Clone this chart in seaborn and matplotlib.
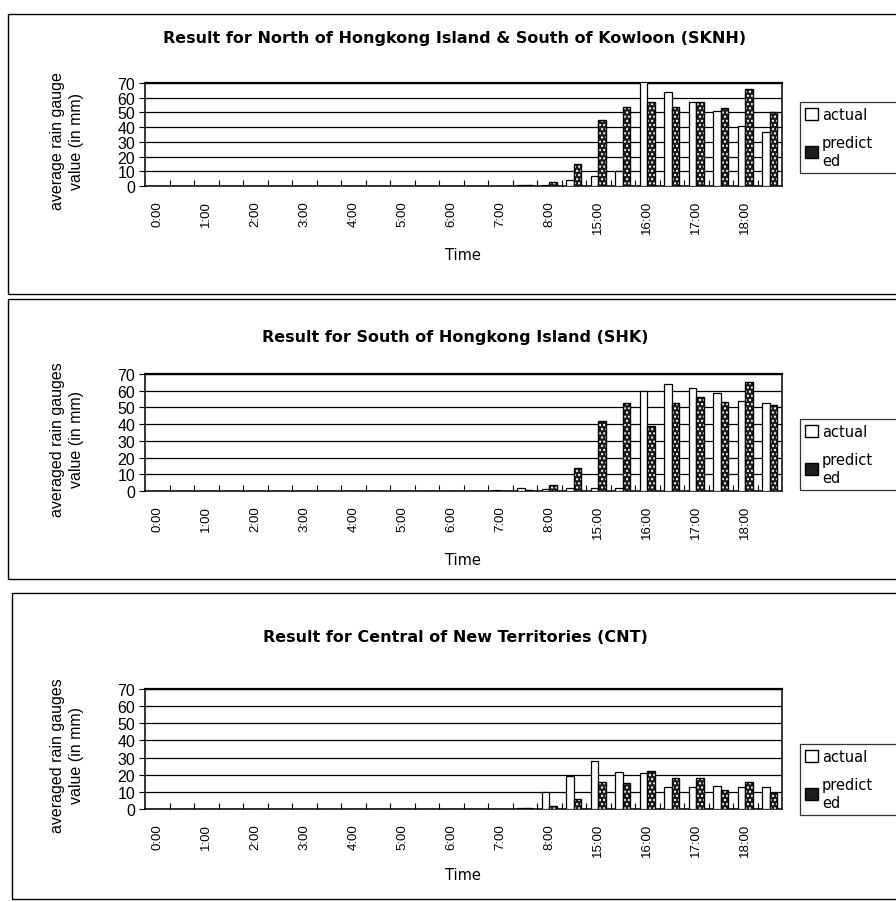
import matplotlib
matplotlib.use("Agg")
import matplotlib.pyplot as plt
import seaborn as sns
import pandas as pd
from matplotlib.patches import Rectangle, Patch

# ---------------- data ----------------
times = ["0:00", "0:30", "1:00", "1:30", "2:00", "2:30", "3:00", "3:30",
         "4:00", "4:30", "5:00", "5:30", "6:00", "6:30", "7:00", "7:30",
         "8:00", "8:30", "15:00", "15:30", "16:00", "16:30", "17:00",
         "17:30", "18:00", "18:30"]
xtick_text = ["0:00", "1:00", "2:00", "3:00", "4:00", "5:00", "6:00", "7:00",
              "8:00", "15:00", "16:00", "17:00", "18:00"]
series_names = ["actual", "predicted"]
legend_labels = ["actual", "predict\ned"]
yticks = [0, 10, 20, 30, 40, 50, 60, 70]

sknh_actual = [0, 0, 0, 0, 0, 0, 0, 0, 0, 0, 0, 0, 0, 0, 0.3, 1.0, 1.0, 4.0,
               6.5, 10, 72, 64, 57, 51, 41, 37]
sknh_pred = [0, 0, 0, 0, 0, 0, 0, 0, 0, 0, 0, 0, 0, 0, 0.2, 0.5, 2.5, 15,
             45, 54, 57, 54, 57, 53, 66, 50]

shk_actual = [0, 0, 0, 0, 0, 0, 0, 0, 0, 0, 0, 0, 0, 0, 0.3, 1.5, 1.0, 2.0,
              1.5, 1.5, 60, 64, 61.5, 58.5, 54, 52.5]
shk_pred = [0, 0, 0, 0, 0, 0, 0, 0, 0, 0, 0, 0, 0, 0, 0, 0.5, 3.5, 14,
            42, 52.5, 39, 52.5, 56.5, 53.5, 65, 51.5]

cnt_actual = [0, 0, 0, 0, 0, 0, 0, 0, 0, 0, 0, 0, 0, 0, 0, 0.8, 10, 19,
              28, 21.5, 21, 13, 13, 13.5, 13, 13]
cnt_pred = [0, 0, 0, 0, 0, 0, 0, 0, 0, 0, 0, 0, 0, 0, 0, 0.3, 1.5, 6,
            16, 15, 22, 18, 18, 11, 16, 9.5]

titles = ["Result for North of Hongkong Island & South of Kowloon (SKNH)",
          "Result for South of Hongkong Island (SHK)",
          "Result for Central of New Territories (CNT)"]
ylabels = ["average rain gauge\nvalue (in mm)",
           "averaged rain gauges\nvalue (in mm)",
           "averaged rain gauges\nvalue (in mm)"]

# ---------------- layout (pixels) ----------------
W, H = 896, 903
layouts = [
    dict(box=(8, 15, 295), title=38, top=84, bot=187, time=256, leg=103),
    dict(box=(8, 300, 580), title=338, top=375, bot=492, time=561, leg=420),
    dict(box=(12, 594, 900), title=637, top=690, bot=810, time=876, leg=745),
]
AX_L, AX_R = 145, 782

sns.set_theme(style="white")
plt.rcParams["font.family"] = ["Liberation Sans", "DejaVu Sans"]
plt.rcParams["hatch.linewidth"] = 1.0
for key in ["text.color", "axes.labelcolor", "xtick.color", "ytick.color",
            "axes.edgecolor"]:
    plt.rcParams[key] = "black"

fig = plt.figure(figsize=(W / 100, H / 100), dpi=100)
fig.patch.set_facecolor("white")


def fx(x):
    return x / W


def fy(y):
    return 1 - y / H


datasets = [(sknh_actual, sknh_pred), (shk_actual, shk_pred), (cnt_actual, cnt_pred)]
DARK = "#1c1c1c"

for (act, pred), title, ylab, L in zip(datasets, titles, ylabels, layouts):
    ax = fig.add_axes([fx(AX_L), fy(L["bot"]), (AX_R - AX_L) / W,
                       (L["bot"] - L["top"]) / H])
    df = pd.DataFrame({
        "time": times * 2,
        "series": [series_names[0]] * len(times) + [series_names[1]] * len(times),
        "value": list(act) + list(pred),
    })
    sns.barplot(data=df, x="time", y="value", hue="series", order=times,
                hue_order=series_names,
                palette={"actual": "white", "predicted": DARK},
                width=0.6, edgecolor="black", linewidth=0.9, saturation=1,
                legend=False, ax=ax, zorder=3)
    # dotted pattern on predicted bars
    for bar in ax.containers[1]:
        bar.set_hatch("....")
        bar.set_edgecolor("white")
        bar.set_linewidth(0)
        ax.add_patch(Rectangle(bar.get_xy(), bar.get_width(), bar.get_height(),
                               fill=False, ec="black", lw=1.0, zorder=4))

    ax.set_xlim(-0.5, len(times) - 0.5)
    ax.set_ylim(0, 70)
    ax.set_yticks(yticks)
    ax.set_yticklabels([str(v) for v in yticks], fontsize=11.5, color="black")
    ax.yaxis.grid(True, color="black", lw=0.9)
    ax.xaxis.grid(False)
    ax.set_axisbelow(True)

    pos = [times.index(t) for t in xtick_text]
    ax.set_xticks(pos)
    ax.set_xticklabels(xtick_text, rotation=90, fontsize=9.5, color="black")
    ax.set_xticks([i + 0.5 for i in range(len(times) - 1)], minor=True)
    ax.tick_params(axis="x", which="major", length=0, pad=10, colors="black")
    ax.tick_params(axis="x", which="minor", length=4, direction="in",
                   bottom=True, color="black", width=0.8)
    ax.tick_params(axis="y", which="major", length=4, direction="out",
                   left=True, color="black", width=0.8, pad=3)
    ax.set_xlabel("")
    ax.set_ylabel("")
    for s in ax.spines.values():
        s.set_visible(True)
        s.set_color("black")
        s.set_linewidth(1.1)
    ax.spines["top"].set_linewidth(1.6)

    # outer chart-area box
    bx, btop, bbot = L["box"]
    fig.add_artist(Rectangle((fx(bx), fy(bbot)), fx(W + 10) - fx(bx),
                             (bbot - btop) / H, transform=fig.transFigure,
                             fill=False, ec="black", lw=1.0))

    fig.text(fx(455), fy(L["title"]), title, ha="center", va="center",
             fontsize=11.5, fontweight="bold", family=["DejaVu Sans"],
             color="black")
    fig.text(fx(67), fy((L["top"] + L["bot"]) / 2 + 6), ylab, rotation=90,
             ha="center", va="center", fontsize=11.5, linespacing=1.4,
             color="black")
    fig.text(fx(463), fy(L["time"]), "Time", ha="center", va="center",
             fontsize=10.5, family=["DejaVu Sans"], color="black")

    handles = [Patch(fc="white", ec="black", lw=1.0),
               Patch(fc=DARK, ec="black", lw=1.0)]
    leg = fig.legend(handles=handles, labels=legend_labels, loc="upper left",
                     bbox_to_anchor=(fx(800), fy(L["leg"]) - 0.07, fx(910) - fx(800), 0.07),
                     bbox_transform=fig.transFigure, mode="expand",
                     frameon=True, fancybox=False, edgecolor="black",
                     handlelength=0.9, handleheight=0.9, handletextpad=0.25,
                     borderpad=0.35, labelspacing=0.9,
                     borderaxespad=0, prop={"family": ["DejaVu Sans"], "size": 10.5})
    leg.get_frame().set_linewidth(0.9)
    for t in leg.get_texts():
        t.set_color("black")

fig.savefig("out.png", dpi=100, facecolor="white")
